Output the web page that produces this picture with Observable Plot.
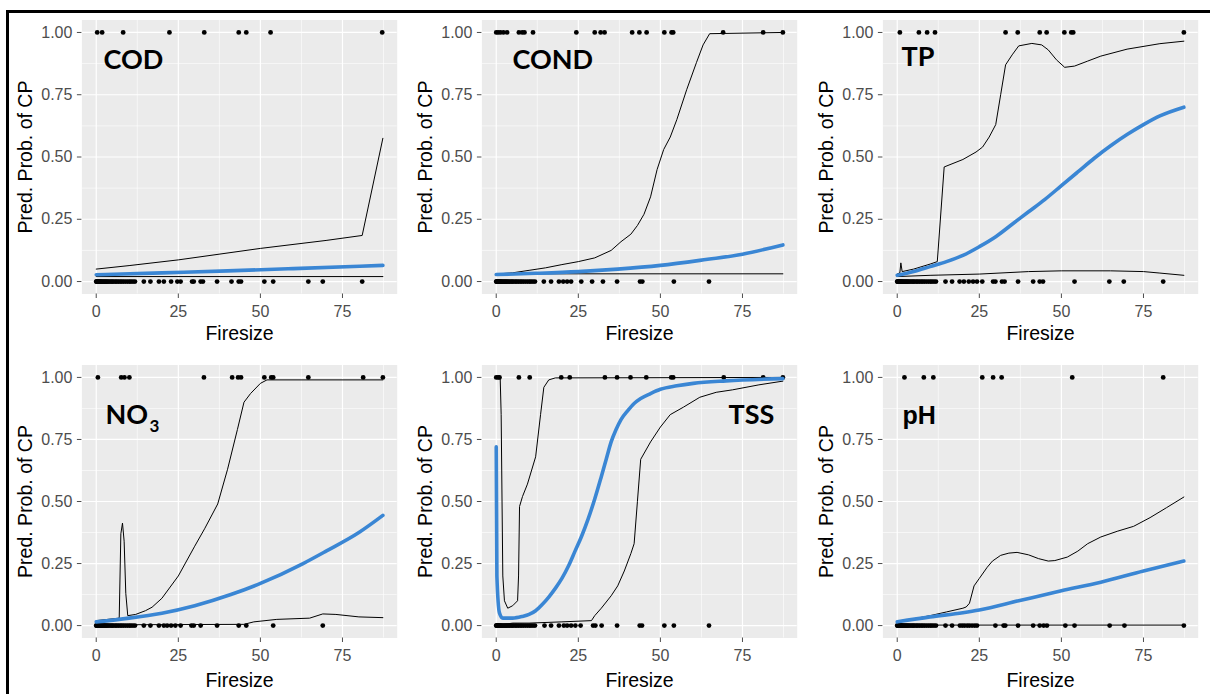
<!DOCTYPE html>
<html>
<head>
<meta charset="utf-8">
<script src="https://cdn.jsdelivr.net/npm/d3@7"></script>
<script src="https://cdn.jsdelivr.net/npm/@observablehq/plot@0.6"></script>
<style>
  body { margin: 0; background: #fff; }
  #wrap { position: relative; width: 1210px; height: 694px; overflow: hidden; background: #fff; }
  .panel { position: absolute; }
  .bt { position: absolute; left: 6px; top: 9.5px; width: 1204px; height: 3px; background: #000; z-index: 5; }
  .bl { position: absolute; left: 6px; top: 9.5px; width: 3px; height: 690px; background: #000; z-index: 5; }
</style>
</head>
<body>
<div id="wrap"></div>
<script>
// ---------- axis ticks ----------
const xTicks = [0, 25, 50, 75];
const xMinor = [12.5, 37.5, 62.5, 87.5];
const yTicks = [0, 0.25, 0.5, 0.75, 1];
const yMinor = [0.125, 0.375, 0.625, 0.875];
const xTitle = "Firesize";
const yTitle = "Pred. Prob. of CP";

// ---------- observed sites (fire size) ----------
// dense cluster of small fires with CP = 0 (shared by all panels)
const smallFires = [0.0, 0.1, 0.2, 0.35, 0.5, 0.65, 0.8, 1.0, 1.2, 1.4, 1.6, 1.9, 2.2, 2.5, 2.8, 3.1, 3.4, 3.8, 4.2, 4.6, 5.0, 5.4, 5.9, 6.3, 6.8, 7.3, 7.8, 8.3, 8.9, 9.5, 10.1, 10.6, 11.2, 11.8];

const codOnes  = [0.3, 1.8, 8.2, 22.3, 32.9, 43.4, 45.7, 53.1, 87.1];
const codZeros = [14.5, 16.5, 19.1, 20.6, 22.8, 24.7, 25.7, 29.2, 29.7, 31.8, 32.5, 36.8, 41.2, 43.4, 44.1, 51.2, 53.9, 64.6, 69.0, 81.0];

const condOnes  = [0.0, 0.6, 1.3, 2.2, 3.3, 6.9, 7.9, 8.6, 11.2, 24.4, 30.0, 31.8, 33.0, 41.4, 43.6, 45.8, 51.2, 53.4, 53.9, 69.1, 81.3, 87.3];
const condZeros = [14.5, 16.7, 19.1, 20.4, 21.6, 22.8, 25.9, 29.2, 32.5, 36.8, 43.8, 44.5, 54.1, 64.8];

const tpOnes  = [0.8, 6.6, 9.1, 11.5, 33.0, 36.7, 43.4, 45.5, 50.9, 53.0, 53.6, 87.3];
const tpZeros = [14.7, 16.7, 19.0, 20.3, 21.8, 23.1, 24.3, 25.9, 29.2, 29.9, 31.9, 32.7, 36.8, 41.4, 43.4, 44.4, 54.0, 64.6, 69.0, 81.0];

const no3Ones  = [0.5, 7.6, 8.6, 10.1, 32.8, 41.4, 43.2, 44.1, 51.2, 53.3, 53.9, 64.6, 81.3, 87.3];
const no3Zeros = [14.5, 16.5, 19.1, 20.6, 21.6, 22.8, 24.1, 25.7, 29.0, 29.7, 31.8, 36.8, 43.4, 45.7, 53.9, 69.0];

const tssOnes  = [0.0, 0.6, 1.0, 6.9, 10.2, 19.8, 22.4, 33.1, 36.8, 40.9, 45.7, 53.3, 53.9, 69.3, 81.3, 87.3];
const tssZeros = [14.7, 16.7, 19.1, 20.6, 21.6, 22.8, 24.1, 25.7, 29.5, 30.2, 32.1, 36.8, 43.7, 44.4, 51.2, 54.1, 64.8];

const phOnes  = [2.2, 8.1, 11.0, 25.9, 29.2, 31.8, 53.3, 81.0];
const phZeros = [14.7, 16.7, 19.1, 19.8, 20.5, 21.3, 22.0, 22.8, 23.6, 24.3, 29.9, 32.4, 32.9, 36.8, 41.4, 43.4, 44.6, 45.6, 51.2, 54.0, 64.7, 69.2, 87.3];

// ---------- predicted probability curves [firesize, prob] ----------
const codFit   = [[0,0.027],[20,0.035],[40,0.043],[60,0.052],[87.3,0.065]];
const codUpper = [[0,0.05],[10,0.064],[25,0.087],[50,0.133],[70,0.165],[81,0.185],[87.3,0.575]];
const codLower = [[0,0.02],[87.3,0.02]];

const condFit   = [[0,0.028],[12,0.033],[25,0.04],[37,0.05],[50,0.065],[62,0.085],[75,0.11],[87.3,0.147]];
const condUpper = [[0,0.03],[5,0.035],[10,0.045],[15,0.055],[20,0.068],[25,0.08],[30,0.095],[35,0.125],[38,0.16],[41,0.19],[43,0.225],[45,0.27],[47,0.34],[49,0.45],[51,0.53],[53,0.58],[55,0.65],[58,0.77],[61,0.88],[63,0.95],[65,0.995],[87.3,1.0]];
const condLower = [[0,0.031],[87.3,0.031]];

const tpFit   = [[0,0.025],[5,0.04],[10,0.06],[15,0.08],[20,0.105],[25,0.14],[30,0.18],[35,0.23],[40,0.28],[45,0.33],[50,0.385],[55,0.44],[60,0.495],[65,0.545],[70,0.59],[75,0.63],[80,0.665],[87.3,0.7]];
const tpUpper = [[0,0.03],[0.8,0.035],[1.1,0.075],[1.5,0.04],[5,0.05],[10,0.07],[12.2,0.08],[14.3,0.46],[20,0.49],[24,0.52],[26,0.54],[28,0.58],[30,0.63],[31.5,0.75],[33,0.87],[35,0.91],[37,0.946],[41,0.956],[44,0.95],[46,0.93],[48.5,0.89],[51,0.86],[54,0.865],[58,0.885],[62,0.905],[70,0.933],[80,0.955],[87.3,0.965]];
const tpLower = [[0,0.02],[10,0.025],[25,0.03],[40,0.04],[50,0.043],[65,0.043],[75,0.04],[80,0.034],[87.3,0.025]];

const no3Fit   = [[0,0.015],[10,0.03],[20,0.05],[30,0.08],[41,0.125],[50,0.17],[63,0.25],[70,0.3],[80,0.375],[87.3,0.444]];
const no3Upper = [[0,0.02],[7,0.03],[7.5,0.37],[8,0.413],[8.5,0.34],[9,0.13],[9.6,0.04],[12,0.045],[15,0.06],[17,0.074],[20,0.11],[25,0.2],[30,0.32],[33,0.39],[37,0.49],[40,0.63],[43,0.79],[45,0.9],[47,0.935],[50,0.976],[52,0.99],[87.3,0.99]];
const no3Lower = [[0,0.003],[45,0.005],[48,0.015],[55,0.025],[65,0.03],[69,0.047],[73,0.045],[80,0.035],[87.3,0.032]];

const tssFit   = [[0,0.72],[0.2,0.2],[1,0.05],[2,0.03],[5,0.03],[8,0.037],[10,0.045],[12,0.06],[14,0.085],[16,0.115],[18,0.15],[20,0.19],[22,0.24],[24,0.3],[26,0.36],[28,0.43],[30,0.51],[32,0.6],[33.5,0.67],[35,0.74],[36.5,0.79],[38,0.83],[40,0.865],[42,0.895],[44,0.915],[47,0.935],[50,0.952],[55,0.966],[60,0.976],[70,0.986],[87.3,0.995]];
const tssUpper = [[0,1.0],[1.2,1.0],[1.5,0.85],[2,0.2],[2.5,0.1],[3.5,0.07],[5,0.08],[6.5,0.1],[6.8,0.2],[7.1,0.48],[8,0.52],[9.5,0.57],[12,0.68],[13.5,0.85],[14.5,0.96],[16,0.99],[18,0.998],[87.3,1.0]];
const tssLower = [[0,0.0],[5,0.01],[10,0.01],[20,0.015],[29,0.02],[30,0.04],[32,0.07],[35,0.12],[37,0.16],[39,0.22],[41,0.29],[42,0.33],[43,0.5],[44,0.67],[47,0.74],[50,0.8],[53,0.85],[57,0.88],[62,0.92],[67,0.94],[72,0.95],[80,0.97],[87.3,0.985]];

const phFit   = [[0,0.015],[10,0.035],[20,0.052],[25,0.063],[37,0.1],[50,0.14],[62,0.175],[75,0.22],[87.3,0.26]];
const phUpper = [[0,0.015],[10,0.04],[15,0.055],[20,0.07],[21,0.075],[22,0.09],[23.4,0.16],[25,0.19],[27.4,0.235],[29,0.26],[31.5,0.283],[34,0.292],[36.5,0.295],[40,0.285],[43,0.27],[46,0.26],[48,0.262],[51.8,0.276],[55,0.3],[58,0.33],[62,0.357],[67,0.38],[72,0.4],[77,0.435],[82,0.475],[87.3,0.518]];
const phLower = [[0,0.002],[87.3,0.002]];

// ---------- assemble panels ----------
const panels = [
  {name: "COD",  ones: codOnes,  zeros: codZeros,  fit: codFit,  upper: codUpper,  lower: codLower},
  {name: "COND", ones: condOnes, zeros: condZeros, fit: condFit, upper: condUpper, lower: condLower},
  {name: "TP",   ones: tpOnes,   zeros: tpZeros,   fit: tpFit,   upper: tpUpper,   lower: tpLower},
  {name: "NO",   sub: "3", ones: no3Ones, zeros: no3Zeros, fit: no3Fit, upper: no3Upper, lower: no3Lower},
  {name: "TSS",  ones: tssOnes,  zeros: tssZeros,  fit: tssFit,  upper: tssUpper,  lower: tssLower},
  {name: "pH",   ones: phOnes,   zeros: phZeros,   fit: phFit,   upper: phUpper,   lower: phLower}
];

// layout (not data)
const colLeft = [0, 400, 801];
const rowTop = [0, 345];
const rowMarginBottom = [46.5, 47.5];
const rowTitleDy = [39.5, 42.5];
const labelPos = [
  {dx: 21.6, dy: 48.5, font: "Lato", size: 27},
  {dx: 30.6, dy: 48.5, font: "Lato", size: 27},
  {dx: 18.6, dy: 45.5, font: "Lato", size: 27},
  {dx: 23.6, dy: 58.5, font: "Lato", size: 27},
  {dx: 246.6, dy: 58.5, font: "Lato", size: 27},
  {dx: 19.6, dy: 58.5, font: "'Liberation Sans', Arial, sans-serif", size: 25}
];

const wrap = document.getElementById("wrap");
const X = d => d[0], Y = d => d[1];

panels.forEach((p, i) => {
  const col = i % 3, row = Math.floor(i / 3);
  const L = labelPos[i];
  const zeros = smallFires.concat(p.zeros);
  const marks = [
    Plot.frame({fill: "#EBEBEB", stroke: "none"}),
    Plot.gridX(xMinor, {stroke: "#fff", strokeOpacity: 1, strokeWidth: 0.6}),
    Plot.gridY(yMinor, {stroke: "#fff", strokeOpacity: 1, strokeWidth: 0.6}),
    Plot.gridX(xTicks, {stroke: "#fff", strokeOpacity: 1, strokeWidth: 1.2}),
    Plot.gridY(yTicks, {stroke: "#fff", strokeOpacity: 1, strokeWidth: 1.2}),
    Plot.axisX(xTicks, {anchor: "bottom", tickSize: 4.5, tickPadding: 7.5, fontSize: 16, color: "#4D4D4D", label: null}),
    Plot.axisY(yTicks, {anchor: "left", tickSize: 4.5, tickPadding: 5, fontSize: 16, color: "#4D4D4D", label: null, tickFormat: d3.format(".2f")}),
    Plot.text([xTitle], {frameAnchor: "bottom", dy: rowTitleDy[row], textAnchor: "middle", lineAnchor: "middle", fontSize: 19.5, fill: "#000"}),
    Plot.text([yTitle], {frameAnchor: "left", dx: -56, rotate: -90, textAnchor: "middle", lineAnchor: "middle", fontSize: 19.5, fill: "#000"}),
    Plot.dot(zeros, {x: d => d, y: () => 0, r: 2.4, fill: "#000", stroke: "none"}),
    Plot.dot(p.ones, {x: d => d, y: () => 1, r: 2.4, fill: "#000", stroke: "none"}),
    Plot.line(p.lower, {x: X, y: Y, stroke: "#000", strokeWidth: 1}),
    Plot.line(p.upper, {x: X, y: Y, stroke: "#000", strokeWidth: 1}),
    Plot.line(p.fit, {x: X, y: Y, stroke: "#3A86D4", strokeWidth: 3.6, curve: "monotone-x"}),
    Plot.text([p.name], {frameAnchor: "top-left", dx: L.dx, dy: L.dy, textAnchor: "start", lineAnchor: "bottom",
      fontSize: L.size, fontWeight: "bold", fontFamily: L.font, fill: "#000"})
  ];
  if (p.sub) {
    marks.push(Plot.text([p.sub], {frameAnchor: "top-left", dx: L.dx + 44, dy: L.dy + 8, textAnchor: "start", lineAnchor: "bottom",
      fontSize: 17, fontWeight: "bold", fontFamily: L.font, fill: "#000"}));
  }
  const svg = Plot.plot({
    width: 400,
    height: 340,
    marginLeft: 81.4,
    marginRight: 3.3,
    marginTop: 19.5,
    marginBottom: rowMarginBottom[row],
    style: {background: "transparent", fontFamily: "'Liberation Sans', Arial, sans-serif", overflow: "visible"},
    x: {domain: [-4.365, 91.665]},
    y: {domain: [-0.05, 1.05]},
    marks
  });
  svg.classList.add("panel");
  svg.style.left = colLeft[col] + "px";
  svg.style.top = rowTop[row] + "px";
  svg.style.position = "absolute";
  wrap.appendChild(svg);
});

const bt = document.createElement("div"); bt.className = "bt"; wrap.appendChild(bt);
const bl = document.createElement("div"); bl.className = "bl"; wrap.appendChild(bl);
</script>
</body>
</html>
